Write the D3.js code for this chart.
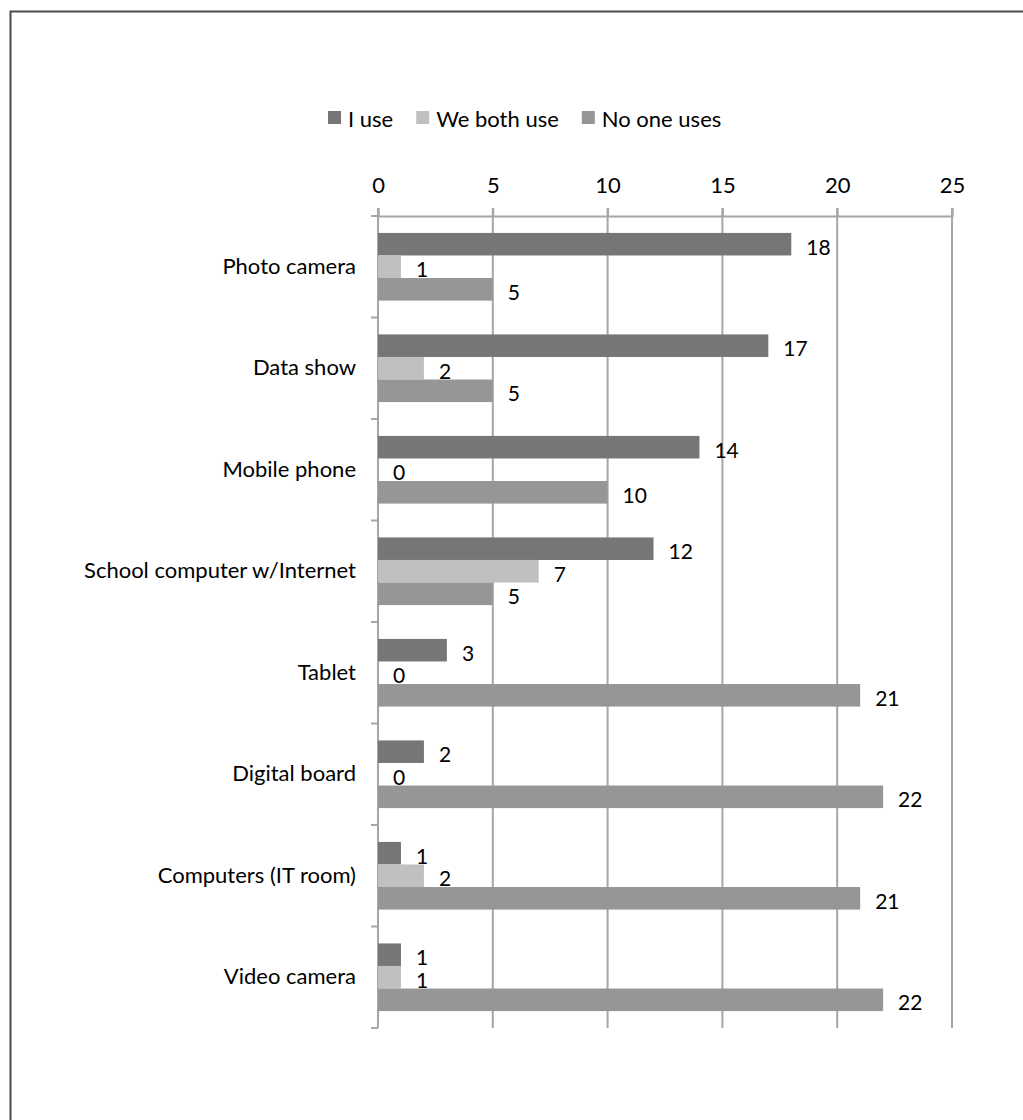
<!DOCTYPE html>
<html>
<head>
<meta charset="utf-8">
<script src="https://cdn.jsdelivr.net/npm/d3@7"></script>
<style>
  body { margin: 0; background: #fff; }
  svg text { font-family: Lato, "Open Sans", sans-serif; fill: #000; }
</style>
</head>
<body>
<svg id="main" width="1023" height="1120"></svg>
<script>
    // data
    const categories = ["Photo camera", "Data show", "Mobile phone", "School computer w/Internet",
                        "Tablet", "Digital board", "Computers (IT room)", "Video camera"];
    const series = ["I use", "We both use", "No one uses"];
    const iUse = [18, 17, 14, 12, 3, 2, 1, 1];
    const bothUse = [1, 2, 0, 7, 0, 0, 2, 1];
    const noOneUses = [5, 5, 10, 5, 21, 22, 21, 22];
    const xTicks = [0, 5, 10, 15, 20, 25];
    const colors = ["#767676", "#c0c0c0", "#969696"];

    const svg = d3.select('svg#main');
    const fs = 22;

    // frame lines (top and left only)
    svg.append("path")
        .attr("d", "M10.5,1120 V11.5 H1023")
        .attr("fill", "none")
        .attr("stroke", "#4a4a4a")
        .attr("stroke-width", 2);

    const pLeft = 378, pRight = 952, pTop = 216, pBottom = 1028;

    const x = d3.scaleLinear().domain([0, 25]).range([pLeft, pRight]);
    const y0 = d3.scaleBand().domain(categories).range([pTop, pBottom]).padding(0);
    const y1 = d3.scaleBand().domain(series).range([0, y0.bandwidth()]).paddingInner(0).paddingOuter(0.75);

    const dataSet = categories.map((c, i) => ({
        cat: c,
        vals: [iUse[i], bothUse[i], noOneUses[i]]
    }));

    // vertical gridlines
    svg.append("g")
        .selectAll("line")
        .data(xTicks.slice(1))
        .enter()
        .append("line")
        .attr("x1", d => x(d)).attr("x2", d => x(d))
        .attr("y1", pTop - 8).attr("y2", pBottom)
        .attr("stroke", "#a6a6a6")
        .attr("stroke-width", 2);

    // top axis
    const xAxis = svg.append("g")
        .attr("transform", `translate(0,${pTop})`)
        .call(d3.axisTop(x).tickValues(xTicks).tickSize(8).tickPadding(15));
    xAxis.select(".domain").attr("stroke", "#a6a6a6").attr("stroke-width", 2);
    xAxis.selectAll(".tick line").attr("stroke", "#a6a6a6").attr("stroke-width", 2);
    xAxis.selectAll(".tick text").style("font-size", fs + "px").attr("font-family", null);

    // left axis
    const yAxis = svg.append("g")
        .attr("transform", `translate(${pLeft},0)`)
        .call(d3.axisLeft(y0).tickSize(0).tickPadding(22));
    yAxis.select(".domain").remove();
    yAxis.selectAll(".tick text").style("font-size", fs + "px").attr("font-family", null);
    svg.append("line")
        .attr("x1", pLeft).attr("x2", pLeft)
        .attr("y1", pTop - 8).attr("y2", pBottom)
        .attr("stroke", "#a6a6a6").attr("stroke-width", 2);
    // category separators
    svg.append("g")
        .selectAll("line")
        .data(categories.map(c => y0(c)).concat([pBottom]))
        .enter()
        .append("line")
        .attr("x1", pLeft - 7).attr("x2", pLeft)
        .attr("y1", d => d).attr("y2", d => d)
        .attr("stroke", "#a6a6a6").attr("stroke-width", 2);

    // bars
    const groups = svg.append("g")
        .selectAll("g")
        .data(dataSet)
        .enter()
        .append("g")
        .attr("transform", d => `translate(0,${y0(d.cat)})`);

    const cells = groups.selectAll("g")
        .data(d => d.vals.map((v, j) => ({ v: v, s: series[j], j: j })))
        .enter();

    cells.append("rect")
        .attr("x", x(0))
        .attr("y", d => y1(d.s))
        .attr("width", d => x(d.v) - x(0))
        .attr("height", y1.bandwidth())
        .attr("fill", d => colors[d.j]);

    cells.append("text")
        .attr("x", d => x(d.v) + 15)
        .attr("y", d => y1(d.s) + y1.bandwidth() / 2 + 2)
        .attr("dominant-baseline", "central")
        .style("font-size", "21px")
        .text(d => d.v);

    // legend
    const legend = svg.append("g").attr("class", "legend");
    let lx = 328;
    series.forEach((s, i) => {
        legend.append("rect")
            .attr("x", lx).attr("y", 111)
            .attr("width", 13).attr("height", 13)
            .attr("fill", colors[i]);
        const t = legend.append("text")
            .attr("x", lx + 20).attr("y", 118)
            .attr("dominant-baseline", "central")
            .style("font-size", fs + "px")
            .text(s);
        lx += 20 + t.node().getComputedTextLength() + 23;
    });
</script>
</body>
</html>
